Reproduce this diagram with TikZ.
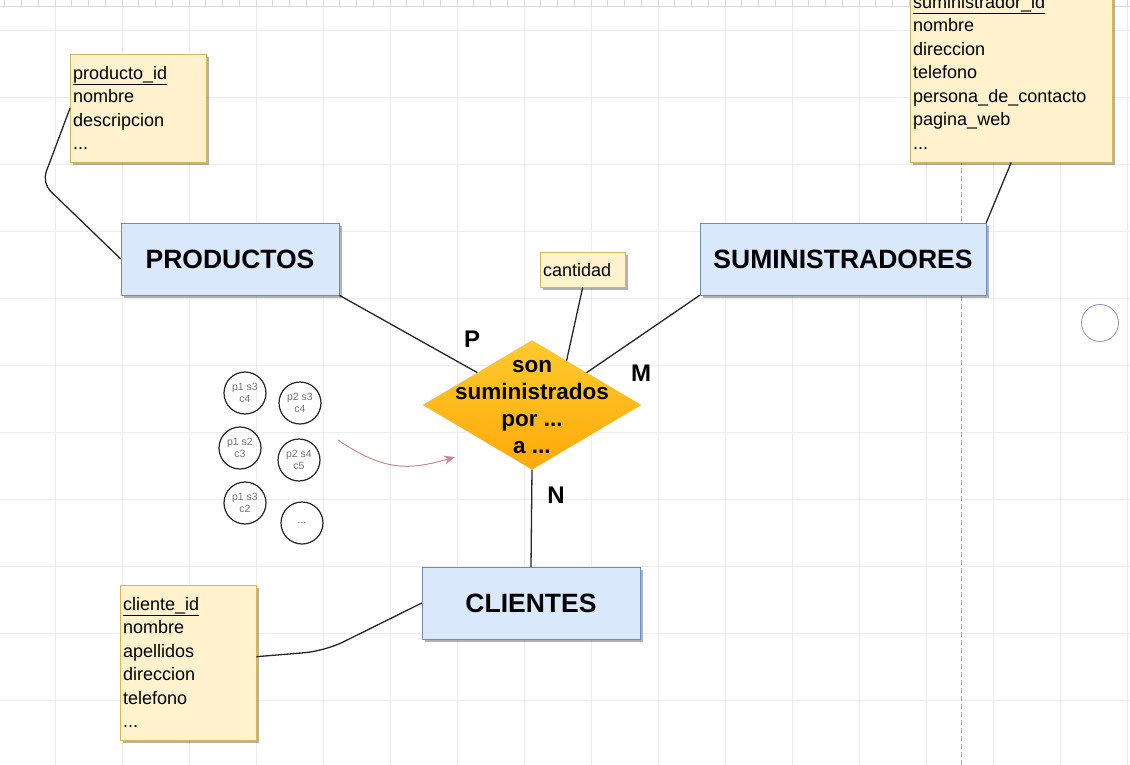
\documentclass[tikz,border=0pt]{standalone}
\usepackage{fontspec}
\setmainfont{Liberation Sans}
\usetikzlibrary{shapes.geometric,shadows,arrows.meta}

\definecolor{atrfondo}{HTML}{FFF2CC}
\definecolor{atrborde}{HTML}{D6B656}
\definecolor{entfondo}{HTML}{DAE8FC}
\definecolor{entborde}{HTML}{6C8EBF}
\definecolor{relarriba}{HTML}{FFCA2C}
\definecolor{relabajo}{HTML}{FFA90A}
\definecolor{relborde}{HTML}{F7BE55}
\definecolor{cuadricula}{HTML}{EDEDED}
\definecolor{flecha}{HTML}{C98896}
\definecolor{circulo}{HTML}{8E8EC4}

\begin{document}
\begin{tikzpicture}[x=1pt,y=-1pt,
    sombra/.style={drop shadow={shadow xshift=3pt,shadow yshift=-3pt,fill=black,opacity=.3}},
    atributos/.style={draw=atrborde, fill=atrfondo, sombra, anchor=north west, align=left,
        inner xsep=3pt, inner ysep=0pt, font=\fontsize{18}{23.5}\selectfont},
    entidad/.style={draw=entborde, fill=entfondo, sombra, minimum height=72pt,
        font=\fontsize{26.5}{30}\selectfont\bfseries},
    relacion/.style={diamond, aspect=1.69, inner sep=0pt, minimum width=218pt, minimum height=129pt,
        top color=relarriba, bottom color=relabajo, draw=relborde},
    reltexto/.style={align=center, font=\fontsize{22.5}{27}\selectfont\bfseries},
    cardinalidad/.style={font=\fontsize{24}{24}\selectfont\bfseries},
    tupla/.style={circle, draw=black!85, line width=1.2pt, minimum size=42pt, inner sep=0pt,
        align=center, text=black!55, font=\fontsize{10.5}{12}\selectfont},
    conector/.style={draw=black!85, line width=1.3pt},
    flechita/.style={draw=flecha, line width=1pt, -{Stealth[length=11pt,width=9pt]}},
    guia/.style={draw=gray!70, line width=1pt, dash pattern=on 5pt off 3pt},
    regla/.style={draw=gray!30, line width=0.8pt}]

    \clip (0,0) rectangle (1130,765);
    \fill[white] (0,0) rectangle (1130,765);

    % Cuadricula
    \foreach \x in {55,122,...,1127}
        \draw[cuadricula] (\x,0) -- (\x,765);
    \foreach \y in {30,97,...,767}
        \draw[cuadricula] (0,\y) -- (1130,\y);

    % Regla
    \draw[regla] (0,6) -- (1130,6);
    \foreach \i in {0,...,67}
        \draw[regla] ({4.75+16.75*\i},0) -- ++(0,6);

    % Guia
    \draw[guia] (961,0) -- (961,765);

    % Atributos
    \node[atributos, text width=130pt, minimum height=108pt] (prod-atr) at (70,54)
        {\underline{producto\_id}\\nombre\\descripcion\\...};
    \node[atributos, text width=196pt, minimum height=180pt] (sum-atr) at (910,-18)
        {\underline{suministrador\_id}\\nombre\\direccion\\telefono\\persona\_de\_contacto\\pagina\_web\\...};
    \node[atributos, text width=130pt, minimum height=155pt] (cli-atr) at (120,585)
        {\underline{cliente\_id}\\nombre\\apellidos\\direccion\\telefono\\...};
    \node[atributos, text width=79pt, minimum height=35pt] (cant) at (540,252) {cantidad};

    % Entidades
    \node[entidad, minimum width=218pt] (prod) at (230,259) {PRODUCTOS};
    \node[entidad, minimum width=286pt] (sum) at (843,259) {SUMINISTRADORES};
    \node[entidad, minimum width=218pt] (cli) at (531,603) {CLIENTES};

    % Relacion
    \node[relacion] (rel) at (532,405) {};
    \node[reltexto] (rel-texto) at ([yshift=-2pt]rel.center) {son\\suministrados\\por ...\\a ...};

    % Cardinalidades
    \node[cardinalidad] (card-p) at (472,339) {P};
    \node[cardinalidad] (card-m) at (641,373) {M};
    \node[cardinalidad] (card-n) at (556,495) {N};

    % Conectores
    \draw[conector] (prod.south east) -- (rel.north west);
    \draw[conector] (sum.south west) -- (rel.north east);
    \draw[conector] (cant.south) -- (rel.52);
    \draw[conector] (rel.south) -- (cli.north);
    \draw[conector, rounded corners=12pt] (prod-atr.west) -- (42,183) -- (prod.west);
    \draw[conector] (sum-atr.south) -- (sum.north east);
    \draw[conector, rounded corners=20pt] ([yshift=6pt]cli-atr.east) -- (325,651) -- (cli.west);

    % Tuplas
    \node[tupla] (t1) at (245,393) {p1 s3\\c4};
    \node[tupla] (t2) at (300,403) {p2 s3\\c4};
    \node[tupla] (t3) at (240,448) {p1 s2\\c3};
    \node[tupla] (t4) at (299,460) {p2 s4\\c5};
    \node[tupla] (t5) at (245,503) {p1 s3\\c2};
    \node[tupla] (t6) at (302,523) {...};

    % Flecha
    \coordinate (flecha-ini) at (338,440);
    \coordinate (flecha-fin) at (455,457);
    \draw[flechita] (flecha-ini) .. controls (385,472) and (410,470) .. (flecha-fin);

    % Circulo
    \node[circle, draw=circulo, line width=0.8pt, minimum size=37pt] (circ) at (1100,323) {};
\end{tikzpicture}
\end{document}
